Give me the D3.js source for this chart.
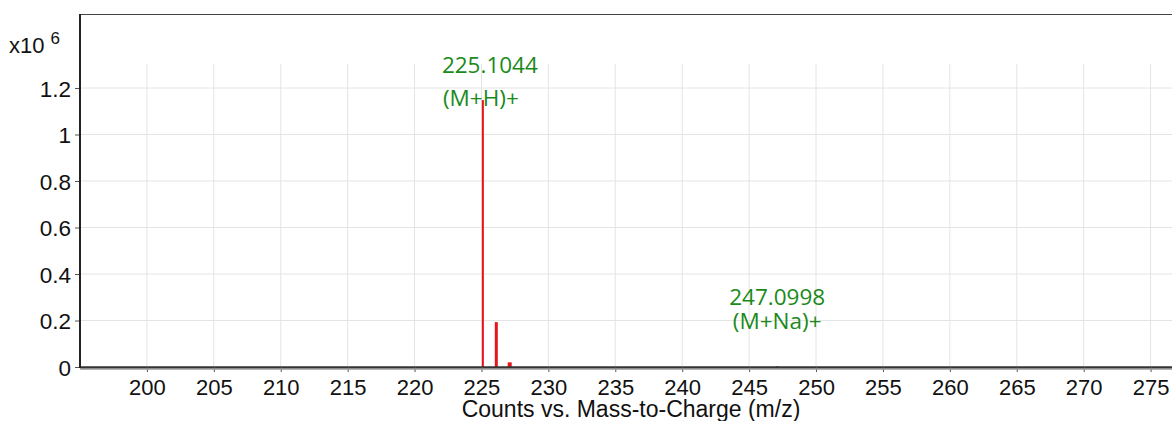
<!DOCTYPE html>
<html>
<head>
<meta charset="utf-8">
<script src="https://cdn.jsdelivr.net/npm/d3@7"></script>
<style>
  html, body { margin: 0; padding: 0; background: #fff; }
  svg { display: block; }
</style>
</head>
<body>
<svg id="chart" width="1172" height="421"></svg>
<script>
// Spectrum peaks (m/z, counts x10^6)
const peakMz = [225.1044, 226.108, 227.11, 247.0998];
const peakCounts = [1.148, 0.193, 0.02, 0.004];
const peakWidths = [2, 3, 4, 2];

// Annotated peaks
const labelMz = [225.1044, 247.0998];
const labelValues = ["225.1044", "247.0998"];
const labelIons = ["(M+H)+", "(M+Na)+"];

const xTicks = d3.range(200, 276, 5);
const yTicks = [0, 0.2, 0.4, 0.6, 0.8, 1, 1.2];

const W = 1172, H = 421;
const m = { left: 80, right: 0, top: 14, bottom: 54 };

const svg = d3.select("#chart");
const x = d3.scaleLinear().domain([195, 276.6]).range([m.left, W - m.right]);
const y = d3.scaleLinear().domain([0, 1.2]).range([H - m.bottom, 88]);
const y0 = y(0);

// grid
const g = svg.append("g");
g.selectAll(".vg").data(xTicks).join("line")
  .attr("x1", d => x(d)).attr("x2", d => x(d))
  .attr("y1", 64).attr("y2", y0)
  .attr("stroke", "#e4e4e4").attr("stroke-width", 1);
g.selectAll(".hg").data(yTicks.slice(1)).join("line")
  .attr("x1", m.left).attr("x2", W)
  .attr("y1", d => y(d)).attr("y2", d => y(d))
  .attr("stroke", "#e4e4e4").attr("stroke-width", 1);

// frame top
svg.append("line").attr("x1", m.left).attr("x2", W)
  .attr("y1", m.top + 0.5).attr("y2", m.top + 0.5)
  .attr("stroke", "#444").attr("stroke-width", 1);

// peaks
svg.selectAll(".peak").data(peakMz).join("rect")
  .attr("x", (d, i) => x(d) - peakWidths[i] / 2)
  .attr("width", (d, i) => peakWidths[i])
  .attr("y", (d, i) => y(peakCounts[i]))
  .attr("height", (d, i) => y0 - y(peakCounts[i]))
  .attr("fill", "#e8141c");

// axes
const fontAxis = "'Liberation Sans', Arial, sans-serif";
const xAxis = svg.append("g").attr("transform", `translate(0,${y0})`)
  .call(d3.axisBottom(x).tickValues(xTicks).tickSize(5).tickSizeOuter(0));
xAxis.select(".domain").attr("stroke", "#333").attr("stroke-width", 2.5);
xAxis.selectAll(".tick line").attr("stroke", "#555");
xAxis.selectAll(".tick text").attr("font-family", fontAxis).attr("font-size", 22)
  .attr("fill", "#111").attr("y", 28).attr("dy", 0);
svg.append("line").attr("x1", m.left).attr("x2", W).attr("y1", y0 + 2).attr("y2", y0 + 2)
  .attr("stroke", "#999").attr("stroke-width", 1.5);

const yAxis = svg.append("g").attr("transform", `translate(${m.left},0)`)
  .call(d3.axisLeft(y).tickValues(yTicks).tickFormat(d3.format("~g")).tickSize(5).tickSizeOuter(0));
yAxis.select(".domain").remove();
svg.append("line").attr("x1", m.left).attr("x2", m.left).attr("y1", m.top).attr("y2", y0 + 1)
  .attr("stroke", "#222").attr("stroke-width", 2);
yAxis.selectAll(".tick line").attr("stroke", "#555");
yAxis.selectAll(".tick text").attr("font-family", fontAxis).attr("font-size", 22.5)
  .attr("fill", "#111").attr("x", -9).attr("dy", "0.36em");

// exponent
const ex = svg.append("text").attr("x", 9).attr("y", 53)
  .attr("font-family", fontAxis).attr("font-size", 22).attr("fill", "#111");
ex.append("tspan").text("x10 ");
ex.append("tspan").attr("dy", -9).attr("font-size", 17).text("6");

// axis title
svg.append("text").attr("x", 631).attr("y", 417).attr("text-anchor", "middle")
  .attr("font-family", fontAxis).attr("font-size", 23).attr("fill", "#111")
  .text("Counts vs. Mass-to-Charge (m/z)");

// annotations
const fontLab = "'Open Sans', 'Noto Sans', sans-serif";
const labelDx = [[7, -2], [0, 0]];
const labelBase = [[73, 106], [305, 329]];
labelMz.forEach((mz, i) => {
  const cx = x(mz);
  svg.append("text").attr("x", cx + labelDx[i][0]).attr("y", labelBase[i][0])
    .attr("text-anchor", "middle").attr("font-family", fontLab).attr("font-size", 22.5)
    .attr("fill", "#1a8a1a").text(labelValues[i]);
  svg.append("text").attr("x", cx + labelDx[i][1]).attr("y", labelBase[i][1])
    .attr("text-anchor", "middle").attr("font-family", fontLab).attr("font-size", 22.5)
    .attr("fill", "#1a8a1a").text(labelIons[i]);
});
</script>
</body>
</html>
